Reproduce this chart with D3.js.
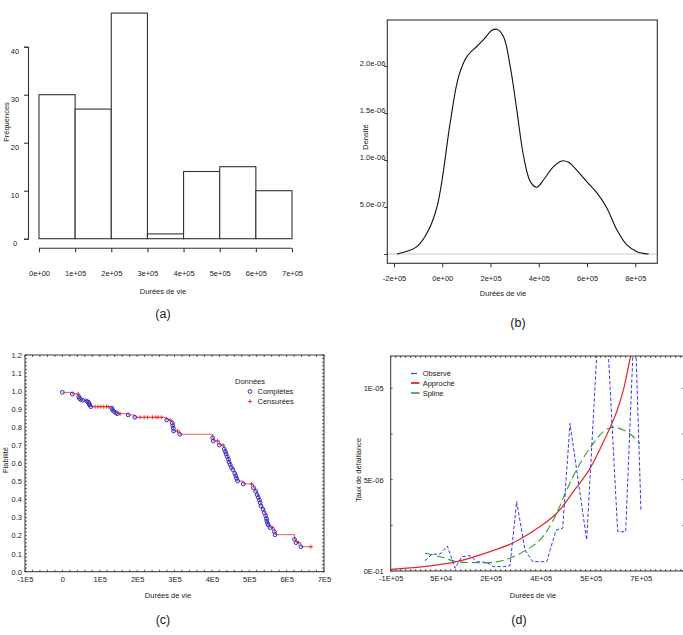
<!DOCTYPE html>
<html><head><meta charset="utf-8">
<script src="https://cdn.jsdelivr.net/npm/d3@7"></script>
<style>
body{margin:0;background:#fff}
svg{display:block}
text{font-family:"Liberation Sans",Arial,sans-serif;fill:#222}
</style>
</head><body>
<svg id="chart" width="683" height="635"></svg>
<script>
// ---------- (a) histogram ----------
const histEdges = [0, 1e5, 2e5, 3e5, 4e5, 5e5, 6e5, 7e5];
const histCounts = [30, 27, 47, 1, 14, 15, 10];
const histYTicks = [0, 10, 20, 30, 40];
const histXTicks = [0, 1e5, 2e5, 3e5, 4e5, 5e5, 6e5, 7e5];
const histXLabels = ["0e+00", "1e+05", "2e+05", "3e+05", "4e+05", "5e+05", "6e+05", "7e+05"];

// ---------- (b) density ----------
const densX = [-187800, -105000, -56600, -22000, 0, 33000, 68000, 102000, 144000, 171000, 206000, 227000, 254000, 282000, 309000, 337000, 365000, 392000, 420000, 461000, 496000, 523000, 558000, 599000, 641000, 682000, 724000, 765000, 807000, 855000];
const densY = [0, 0.078e-6, 0.255e-6, 0.50e-6, 0.80e-6, 1.40e-6, 1.89e-6, 2.10e-6, 2.21e-6, 2.28e-6, 2.38e-6, 2.39e-6, 2.31e-6, 1.99e-6, 1.53e-6, 1.04e-6, 0.77e-6, 0.71e-6, 0.79e-6, 0.93e-6, 0.99e-6, 0.975e-6, 0.89e-6, 0.77e-6, 0.65e-6, 0.49e-6, 0.255e-6, 0.096e-6, 0.025e-6, 0];
const densXTicks = [-2e5, 0, 2e5, 4e5, 6e5, 8e5];
const densXLabels = ["-2e+05", "0e+00", "2e+05", "4e+05", "6e+05", "8e+05"];
const densYTicks = [0, 5e-7, 1e-6, 1.5e-6, 2e-6];
const densYLabels = ["", "5.0e-07", "1.0e-06", "1.5e-06", "2.0e-06"];

// ---------- (c) Kaplan-Meier ----------
const kmTime = [0, 26800, 42000, 44000, 45500, 49000, 54500, 63400, 66000, 70000, 71400, 73000, 76000, 87500, 95500, 102700, 110700, 118000, 123000, 132000, 134000, 137500, 143000, 147000, 154500, 176000, 194000, 208000, 219000, 228000, 241000, 250000, 256000, 265000, 279000, 288000, 294000, 295500, 297000, 297500, 308000, 314000, 402000, 404000, 415000, 420000, 430000, 433000, 436000, 438000, 441000, 444000, 446000, 449000, 452000, 456000, 461000, 464000, 466000, 469000, 484000, 506000, 511000, 517000, 521000, 524000, 527000, 529000, 531000, 537000, 540000, 544000, 546000, 547000, 549000, 551000, 556000, 562000, 567000, 569000, 621000, 625000, 632000, 638000, 665000];
const kmSurv = [0.993, 0.984, 0.984, 0.969, 0.960, 0.953, 0.949, 0.949, 0.943, 0.938, 0.930, 0.923, 0.914, 0.914, 0.914, 0.914, 0.914, 0.914, 0.914, 0.906, 0.897, 0.888, 0.880, 0.875, 0.875, 0.868, 0.855, 0.855, 0.855, 0.855, 0.855, 0.855, 0.855, 0.855, 0.840, 0.840, 0.823, 0.809, 0.794, 0.779, 0.779, 0.761, 0.742, 0.724, 0.724, 0.701, 0.701, 0.679, 0.665, 0.652, 0.637, 0.622, 0.607, 0.593, 0.578, 0.565, 0.545, 0.530, 0.517, 0.502, 0.486, 0.486, 0.465, 0.445, 0.426, 0.412, 0.397, 0.382, 0.364, 0.345, 0.327, 0.310, 0.294, 0.281, 0.268, 0.258, 0.244, 0.244, 0.222, 0.205, 0.179, 0.161, 0.161, 0.138, 0.138];
const kmStatus = [1, 1, 0, 1, 1, 1, 1, 0, 1, 1, 1, 1, 1, 0, 0, 0, 0, 0, 0, 1, 1, 1, 1, 1, 0, 1, 1, 0, 0, 0, 0, 0, 0, 0, 1, 0, 1, 1, 1, 1, 0, 1, 1, 1, 0, 1, 0, 1, 1, 1, 1, 1, 1, 1, 1, 1, 1, 1, 1, 1, 1, 0, 1, 1, 1, 1, 1, 1, 1, 1, 1, 1, 1, 1, 1, 1, 1, 0, 1, 1, 1, 1, 0, 1, 0];
const kmXTicks = [-1e5, 0, 1e5, 2e5, 3e5, 4e5, 5e5, 6e5, 7e5];
const kmXLabels = ["-1E5", "0", "1E5", "2E5", "3E5", "4E5", "5E5", "6E5", "7E5"];
const kmYTicks = [0, 0.1, 0.2, 0.3, 0.4, 0.5, 0.6, 0.7, 0.8, 0.9, 1.0, 1.1, 1.2];
const kmLegend = ["Complètes", "Censurées"];

// ---------- (d) hazard rate ----------
const obsX = [3000, 23000, 48000, 70000, 93000, 113000, 138000, 158000, 188000, 208000, 238000, 258000, 278000, 303000, 326000, 368000, 396000, 416000, 438000, 488000, 536000, 581000, 605000, 632000, 651000];
const obsY = [0.56e-6, 0.91e-6, 0.93e-6, 1.37e-6, 0.15e-6, 0.78e-6, 0.84e-6, 0.51e-6, 0.47e-6, 0.24e-6, 0.24e-6, 0.29e-6, 3.8e-6, 1.15e-6, 0.51e-6, 0.51e-6, 2.24e-6, 2.34e-6, 8.08e-6, 1.7e-6, 17.8e-6, 2.15e-6, 2.15e-6, 14.3e-6, 3.25e-6];
const fitX = [-100000, -2000, 98000, 198000, 268000, 348000, 398000, 448000, 498000, 548000, 578000, 598000, 620000, 640000];
const fitY = [0.09e-6, 0.24e-6, 0.51e-6, 1.06e-6, 1.55e-6, 2.43e-6, 3.16e-6, 4.34e-6, 5.62e-6, 7.45e-6, 8.72e-6, 9.9e-6, 11.77e-6, 13.2e-6];
const splX = [3000, 48000, 98000, 148000, 198000, 248000, 298000, 348000, 388000, 428000, 468000, 508000, 538000, 563000, 598000, 628000, 648000];
const splY = [0.97e-6, 0.78e-6, 0.51e-6, 0.46e-6, 0.46e-6, 0.64e-6, 1.06e-6, 1.70e-6, 2.79e-6, 4.43e-6, 5.89e-6, 6.99e-6, 7.63e-6, 7.86e-6, 7.72e-6, 7.35e-6, 6.95e-6];
const hazXTicks = [-1e5, 5e4, 2e5, 3.5e5, 5e5, 6.5e5];
const hazXLabels = ["-1E+05", "5E+04", "2E+05", "4E+05", "5E+05", "7E+05"];
const hazYTicks = [0, 5e-6, 1e-5];
const hazYLabels = ["0E-01", "5E-06", "1E-05"];
const hazLegend = ["Observé", "Approché", "Spline"];

const svg = d3.select("#chart");
svg.append("rect").attr("width", 683).attr("height", 635).attr("fill", "#fff");
const FS = "7.5px";

function txt(g, x, y, s, anchor, size, rot) {
  const t = g.append("text").attr("x", x).attr("y", y).text(s)
    .attr("text-anchor", anchor || "middle").style("font-size", size || FS);
  if (rot) t.attr("transform", `rotate(${rot},${x},${y})`);
  return t;
}

// ===================== (a) =====================
{
  const g = svg.append("g");
  const x = d3.scaleLinear().domain([0, 7e5]).range([39, 292]);
  const y = d3.scaleLinear().domain([0, 40]).range([238.7, 46.7]);
  const bins = histCounts.map((c, i) => ({x0: histEdges[i], x1: histEdges[i + 1], c}));
  g.selectAll("rect.bar").data(bins).join("rect").attr("class", "bar")
    .attr("x", d => x(d.x0)).attr("width", d => x(d.x1) - x(d.x0))
    .attr("y", d => y(d.c)).attr("height", d => y(0) - y(d.c))
    .attr("fill", "#fff").attr("stroke", "#333").attr("stroke-width", 1.1);
  const ya = g.append("g").attr("transform", "translate(28,0)")
    .call(d3.axisLeft(y).tickValues(histYTicks).tickSize(4).tickFormat(d3.format("d")));
  ya.select(".domain").attr("stroke", "#333").attr("stroke-width", 1.1);
  ya.selectAll(".tick line").attr("stroke", "#333").attr("stroke-width", 1.1);
  ya.selectAll(".tick text").attr("x", -13).attr("dy", "0.95em").attr("text-anchor", "middle")
    .style("font-size", FS).style("font-family", null).attr("fill", "#222");
  const xa = g.append("g").attr("transform", "translate(0,248.3)")
    .call(d3.axisBottom(x).tickValues(histXTicks).tickSize(4).tickSizeOuter(0)
      .tickFormat((d, i) => histXLabels[i]));
  xa.select(".domain").attr("stroke", "#333").attr("stroke-width", 1.1).attr("d", `M${x(0)},0H${x(7e5)}`);
  xa.selectAll(".tick line").attr("stroke", "#333").attr("stroke-width", 1.1);
  xa.selectAll(".tick text").attr("y", 22).style("font-size", FS).style("font-family", null).attr("fill", "#222");
  txt(g, 163, 294, "Durées de vie");
  txt(g, 9, 122, "Fréquences", "middle", FS, -90);
  txt(g, 163, 318, "(a)", "middle", "12.5px");
}

// ===================== (b) =====================
{
  const g = svg.append("g");
  const x = d3.scaleLinear().domain([-2e5, 8e5]).range([394, 635.3]);
  const y = d3.scaleLinear().domain([0, 2e-6]).range([254, 66]);
  g.append("line").attr("x1", 387.3).attr("x2", 657.3).attr("y1", y(0)).attr("y2", y(0))
    .attr("stroke", "#c8c8c8").attr("stroke-width", 1);
  const pts = densX.map((d, i) => [d, densY[i]]);
  g.append("path").datum(pts)
    .attr("d", d3.line().x(d => x(d[0])).y(d => y(d[1])).curve(d3.curveCatmullRom.alpha(0.5)))
    .attr("fill", "none").attr("stroke", "#111").attr("stroke-width", 1.1);
  g.append("rect").attr("x", 387.3).attr("y", 20).attr("width", 270).attr("height", 243.3)
    .attr("fill", "none").attr("stroke", "#333").attr("stroke-width", 1.1);
  const ya = g.append("g").attr("transform", "translate(387.3,0)")
    .call(d3.axisLeft(y).tickValues(densYTicks).tickSize(3).tickSizeOuter(0).tickFormat((d, i) => densYLabels[i]));
  ya.select(".domain").remove();
  ya.selectAll(".tick line").attr("stroke", "#333");
  ya.selectAll(".tick text").attr("x", -2).attr("dy", "-0.05em").style("font-size", FS).style("font-family", null).attr("fill", "#222");
  const xa = g.append("g").attr("transform", "translate(0,263.3)")
    .call(d3.axisBottom(x).tickValues(densXTicks).tickSize(4).tickSizeOuter(0).tickFormat((d, i) => densXLabels[i]));
  xa.select(".domain").remove();
  xa.selectAll(".tick line").attr("stroke", "#333");
  xa.selectAll(".tick text").attr("y", 12).style("font-size", FS).style("font-family", null).attr("fill", "#222");
  txt(g, 503, 296, "Durées de vie");
  txt(g, 368, 137, "Densité", "middle", FS, -90);
  txt(g, 518, 327, "(b)", "middle", "12.5px");
}

// minor "ruler" ticks on a box
function rulerTicks(g, x, y, xVals, yVals, len) {
  const [x0, x1] = x.range(), [y0, y1] = y.range();
  const lines = [];
  xVals.forEach(v => { lines.push([x(v), y0, x(v), y0 - len]); lines.push([x(v), y1, x(v), y1 + len]); });
  yVals.forEach(v => { lines.push([x0, y(v), x0 + len, y(v)]); lines.push([x1, y(v), x1 - len, y(v)]); });
  g.selectAll(null).data(lines).join("line")
    .attr("x1", d => d[0]).attr("y1", d => d[1]).attr("x2", d => d[2]).attr("y2", d => d[3])
    .attr("stroke", "#333").attr("stroke-width", 0.8);
}

// ===================== (c) =====================
{
  const g = svg.append("g");
  const x = d3.scaleLinear().domain([-1e5, 7e5]).range([25, 324]);
  const y = d3.scaleLinear().domain([0, 1.2]).range([571.7, 355]);
  g.append("rect").attr("x", 25).attr("y", 355).attr("width", 299).attr("height", 216.7)
    .attr("fill", "none").attr("stroke", "#333").attr("stroke-width", 1);
  rulerTicks(g, x, y, d3.range(-1e5, 7e5 + 1, 2e4), d3.range(0, 1.2001, 0.02), 2);
  const ya = g.append("g").attr("transform", "translate(25,0)")
    .call(d3.axisLeft(y).tickValues(kmYTicks).tickSize(0).tickFormat(d3.format(".1f")));
  ya.select(".domain").remove();
  ya.selectAll(".tick text").attr("x", -3).style("font-size", FS).style("font-family", null).attr("fill", "#222");
  const xa = g.append("g").attr("transform", "translate(0,571.7)")
    .call(d3.axisBottom(x).tickValues(kmXTicks).tickSize(0).tickFormat((d, i) => kmXLabels[i]));
  xa.select(".domain").remove();
  xa.selectAll(".tick text").attr("y", 5).style("font-size", FS).style("font-family", null).attr("fill", "#222");

  const pts = kmTime.map((t, i) => ({t, s: kmSurv[i], st: kmStatus[i]}));
  g.append("path").datum(pts)
    .attr("d", d3.line().x(d => x(d.t)).y(d => y(d.s)).curve(d3.curveStepAfter))
    .attr("fill", "none").attr("stroke", "#f03030").attr("stroke-width", 0.8);
  const cens = pts.filter(d => d.st === 0);
  g.selectAll("path.cens").data(cens).join("path").attr("class", "cens")
    .attr("d", d => `M${x(d.t) - 2},${y(d.s)}h4M${x(d.t)},${y(d.s) - 2}v4`)
    .attr("stroke", "#f03030").attr("stroke-width", 1);
  const comp = pts.filter(d => d.st === 1);
  g.selectAll("circle.comp").data(comp).join("circle").attr("class", "comp")
    .attr("cx", d => x(d.t)).attr("cy", d => y(d.s)).attr("r", 1.9)
    .attr("fill", "none").attr("stroke", "#2c2cd0").attr("stroke-width", 1);

  // legend
  txt(g, 235, 384, "Données", "start");
  g.append("circle").attr("cx", 250).attr("cy", 391.5).attr("r", 1.9).attr("fill", "none").attr("stroke", "#2c2cd0").attr("stroke-width", 1);
  txt(g, 257.5, 394, kmLegend[0], "start");
  g.append("path").attr("d", "M248,401.5h4M250,399.5v4").attr("stroke", "#f03030").attr("stroke-width", 1);
  txt(g, 257.5, 404, kmLegend[1], "start");

  txt(g, 168, 598, "Durées de vie");
  txt(g, 7.5, 460, "Fiabilité", "middle", FS, -90);
  txt(g, 163, 624, "(c)", "middle", "12.5px");
}

// ===================== (d) =====================
{
  const g = svg.append("g");
  const x = d3.scaleLinear().domain([-1e5, 7.8e5]).range([390.7, 684]);
  const y = d3.scaleLinear().domain([0, 1.177e-5]).range([571, 356]);
  svg.append("defs").append("clipPath").attr("id", "clipD")
    .append("rect").attr("x", 390.7).attr("y", 356).attr("width", 293.3).attr("height", 215);
  g.append("rect").attr("x", 390.7).attr("y", 356).attr("width", 300).attr("height", 215)
    .attr("fill", "none").attr("stroke", "#333").attr("stroke-width", 1);
  rulerTicks(g, x, y, d3.range(-1e5, 7.8e5, 1.5e4), d3.range(0, 1.17e-5, 2.5e-6), 2);
  const ya = g.append("g").attr("transform", "translate(390.7,0)")
    .call(d3.axisLeft(y).tickValues(hazYTicks).tickSize(0).tickFormat((d, i) => hazYLabels[i]));
  ya.select(".domain").remove();
  ya.selectAll(".tick text").attr("x", -7).style("font-size", FS).style("font-family", null).attr("fill", "#222");
  const xa = g.append("g").attr("transform", "translate(0,571)")
    .call(d3.axisBottom(x).tickValues(hazXTicks).tickSize(0).tickFormat((d, i) => hazXLabels[i]));
  xa.select(".domain").remove();
  xa.selectAll(".tick text").attr("y", 5).style("font-size", FS).style("font-family", null).attr("fill", "#222");

  const cl = g.append("g").attr("clip-path", "url(#clipD)");
  const line = (xs, ys, curve) => d3.line().x(d => x(d[0])).y(d => y(d[1])).curve(curve)(xs.map((v, i) => [v, ys[i]]));
  cl.append("path").attr("d", line(fitX, fitY, d3.curveCatmullRom.alpha(0.5)))
    .attr("fill", "none").attr("stroke", "#e8262a").attr("stroke-width", 1.2);
  cl.append("path").attr("d", line(splX, splY, d3.curveCatmullRom.alpha(0.5)))
    .attr("fill", "none").attr("stroke", "#2f9a3a").attr("stroke-width", 1.1).attr("stroke-dasharray", "8,4");
  cl.append("path").attr("d", line(obsX, obsY, d3.curveLinear))
    .attr("fill", "none").attr("stroke", "#3a3ae6").attr("stroke-width", 1).attr("stroke-dasharray", "3.5,2");

  // legend
  g.append("line").attr("x1", 411).attr("x2", 417).attr("y1", 373.5).attr("y2", 373.5).attr("stroke", "#3a3ae6").attr("stroke-width", 1.2);
  txt(g, 422.7, 376, hazLegend[0], "start");
  g.append("line").attr("x1", 411).attr("x2", 419.5).attr("y1", 383).attr("y2", 383).attr("stroke", "#e8262a").attr("stroke-width", 1.8);
  txt(g, 422.7, 385.5, hazLegend[1], "start");
  g.append("line").attr("x1", 411).attr("x2", 419.5).attr("y1", 393).attr("y2", 393).attr("stroke", "#2f9a3a").attr("stroke-width", 1.6);
  txt(g, 422.7, 395.5, hazLegend[2], "start");

  txt(g, 533, 598, "Durées de vie");
  txt(g, 361, 470, "Taux de défaillance", "middle", FS, -90);
  txt(g, 519, 624, "(d)", "middle", "12.5px");
}
</script>
</body></html>
